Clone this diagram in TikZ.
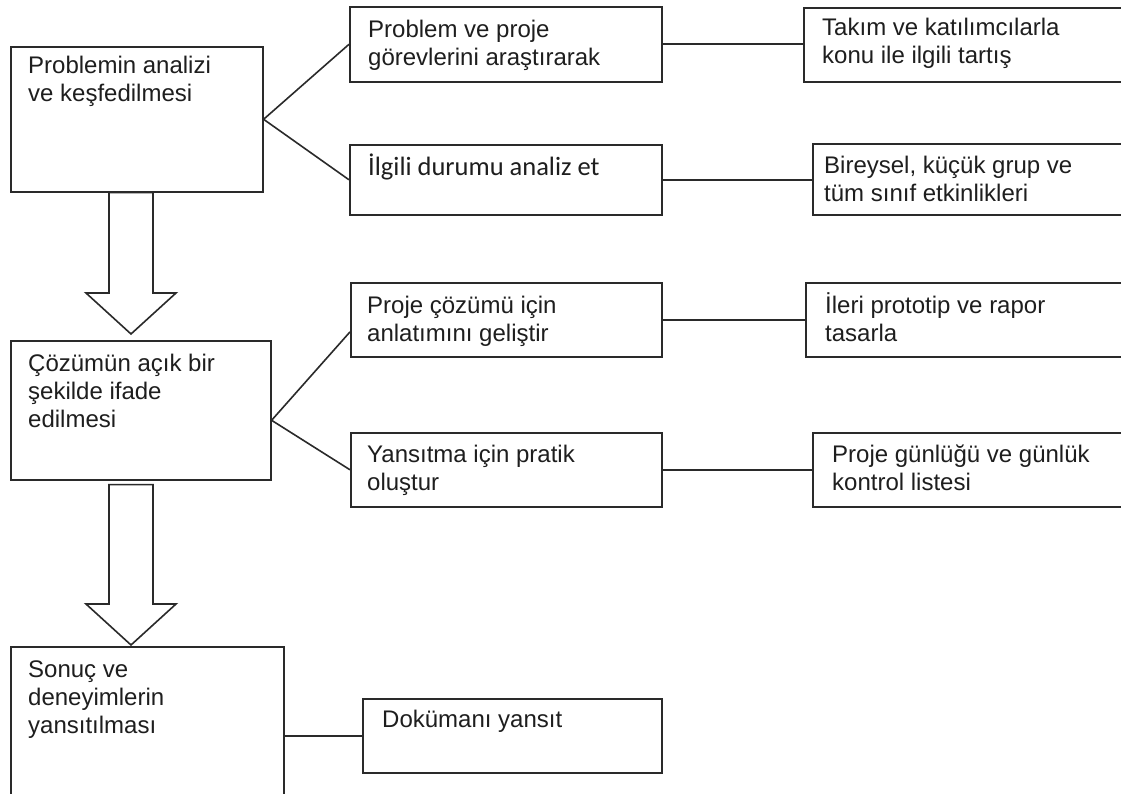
\documentclass[tikz,border=0pt]{standalone}
\usepackage{fontspec}
\setmainfont{Liberation Sans}
\newfontfamily\calibfont{Carlito}
\usetikzlibrary{calc}
\definecolor{linec}{HTML}{2A2A2A}
\definecolor{textc}{HTML}{1E1E1E}
\tikzset{
  boxnode/.style={draw=linec, line width=1.6pt, inner sep=0pt, anchor=north west, fill=white},
  txtnode/.style={anchor=north west, inner sep=0pt, align=left, text=textc,
    font=\fontsize{24}{28}\selectfont},
  conn/.style={draw=linec, line width=1.6pt},
  hollow/.style={draw=linec, line width=1.6pt, line join=miter, fill=white}
}
\newcommand{\firstln}{\rule{0pt}{23pt}}
\newcommand{\hollowarrow}[2]{%
  \draw[hollow] ($(#1)+(-22,0)$) -- ($(#2)+(-22,-41)$) -- ($(#2)+(-45,-41)$) -- (#2)
    -- ($(#2)+(45,-41)$) -- ($(#2)+(22,-41)$) -- ($(#1)+(22,0)$) -- cycle;}
\begin{document}
\begin{tikzpicture}[x=1pt,y=-1pt]
\useasboundingbox (0,0) rectangle (1121,794);
\clip (0,0) rectangle (1121,794);
\fill[white] (0,0) rectangle (1121,794);
% left column
\node[boxnode, minimum width=252pt, minimum height=145pt] (A) at (10,46) {};
\node[boxnode, minimum width=260pt, minimum height=139pt] (B) at (10,340) {};
\node[boxnode, minimum width=273pt, minimum height=200pt] (C) at (10,646) {};
% middle column
\node[boxnode, minimum width=312pt, minimum height=75pt] (P1) at (349,6) {};
\node[boxnode, minimum width=312pt, minimum height=70pt] (P2) at (349,144) {};
\node[boxnode, minimum width=311pt, minimum height=74pt] (Q1) at (350,282) {};
\node[boxnode, minimum width=311pt, minimum height=74pt] (Q2) at (350,432) {};
\node[boxnode, minimum width=299pt, minimum height=74pt] (D) at (362,698) {};
% right column
\node[boxnode, minimum width=340pt, minimum height=74pt] (T) at (803,7) {};
\node[boxnode, minimum width=330pt, minimum height=71pt] (B2) at (812,143) {};
\node[boxnode, minimum width=340pt, minimum height=74pt] (R1) at (805,282) {};
\node[boxnode, minimum width=330pt, minimum height=74pt] (R2) at (812,432) {};
% texts
\node[txtnode] (tA) at ($(A.north west)+(18,4)$) {\firstln Problemin analizi\\ve keşfedilmesi};
\node[txtnode] (tB) at ($(B.north west)+(18,8)$) {\firstln Çözümün açık bir\\şekilde ifade\\edilmesi};
\node[txtnode] (tC) at ($(C.north west)+(18,8)$) {\firstln Sonuç ve\\deneyimlerin\\yansıtılması};
\node[txtnode] (tP1) at ($(P1.north west)+(19,8)$) {\firstln Problem ve proje\\görevlerini araştırarak};
\node[txtnode, font=\calibfont\fontsize{26.5}{30}\selectfont] (tP2) at ($(P2.north west)+(19,8)$) {\firstln İlgili durumu analiz et};
\node[txtnode] (tQ1) at ($(Q1.north west)+(17,8)$) {\firstln Proje çözümü için\\anlatımını geliştir};
\node[txtnode] (tQ2) at ($(Q2.north west)+(17,7)$) {\firstln Yansıtma için pratik\\oluştur};
\node[txtnode] (tD) at ($(D.north west)+(20,6)$) {\firstln Dokümanı yansıt};
\node[txtnode] (tT) at ($(T.north west)+(19,5)$) {\firstln Takım ve katılımcılarla\\konu ile ilgili tartış};
\node[txtnode] (tB2) at ($(B2.north west)+(12,7)$) {\firstln Bireysel, küçük grup ve\\tüm sınıf etkinlikleri};
\node[txtnode] (tR1) at ($(R1.north west)+(20,8)$) {\firstln İleri prototip ve rapor\\tasarla};
\node[txtnode] (tR2) at ($(R2.north west)+(20,7)$) {\firstln Proje günlüğü ve günlük\\kontrol listesi};
% connectors
\draw[conn] (A.east) -- (P1.west);
\draw[conn] (A.east) -- (P2.west);
\draw[conn] (P1.east) -- (P1.east -| T.west);
\draw[conn] (P2.east) -- (P2.east -| B2.west);
\coordinate (bq) at ($(B.east)+(0,10)$);
\coordinate (q1in) at ($(Q1.north west)!0.66!(Q1.south west)$);
\draw[conn] (bq) -- (q1in);
\draw[conn] (bq) -- (Q2.west);
\draw[conn] (Q1.east) -- (Q1.east -| R1.west);
\draw[conn] (Q2.east) -- (Q2.east -| R2.west);
\draw[conn] (D.west -| C.east) -- (D.west);
% hollow arrows
\coordinate (ar1t) at ($(A.south west)+(121,0)$);
\coordinate (ar1b) at ($(B.north west)+(121,-6)$);
\coordinate (ar2t) at ($(B.south west)+(121,4)$);
\coordinate (ar2b) at ($(C.north west)+(121,-1)$);
\hollowarrow{ar1t}{ar1b}
\hollowarrow{ar2t}{ar2b}
\end{tikzpicture}
\end{document}
